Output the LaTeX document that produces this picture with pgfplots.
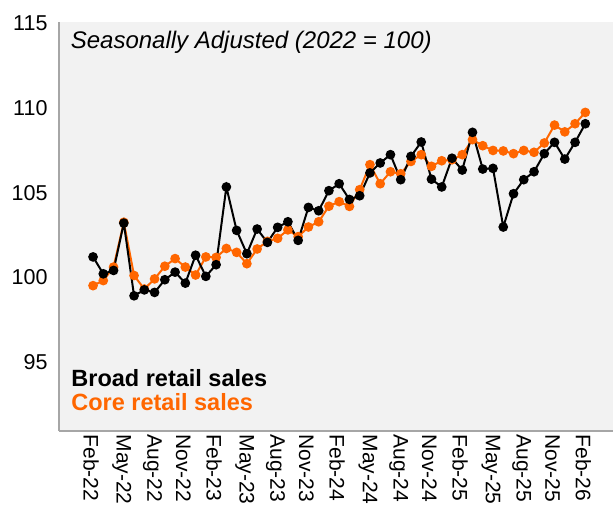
\documentclass[border=0pt]{standalone}
\usepackage{pgfplots}
\pgfplotsset{compat=1.18}
\usepackage{fontspec}
\setmainfont{Liberation Sans}
\definecolor{coreorange}{RGB}{255,102,0}
\definecolor{plotbg}{RGB}{242,242,242}
\definecolor{axisgray}{RGB}{166,166,166}
\begin{document}
\begin{tikzpicture}
\begin{axis}[
  at={(59pt,81pt)}, anchor=south west,
  scale only axis, width=554pt, height=409pt,
  xmin=-3.32, xmax=50.7, ymin=90.9, ymax=115.1,
  axis background/.style={fill=plotbg},
  axis x line*=bottom, axis y line*=left,
  axis line style={draw=axisgray, line width=1.8pt},
  separate axis lines,
  x axis line style={-}, y axis line style={-},
  ytick={95,100,105,110,115},
  xtick={0,3,...,48},
  xticklabels={Feb-22,May-22,Aug-22,Nov-22,Feb-23,May-23,Aug-23,Nov-23,Feb-24,May-24,Aug-24,Nov-24,Feb-25,May-25,Aug-25,Nov-25,Feb-26},
  major tick length=0pt,
  /pgf/number format/assume math mode=true,
  yticklabel style={font=\fontsize{21.5}{25}\selectfont, xshift=-8pt},
  xticklabel style={font=\fontsize{21}{25}\selectfont, rotate=-90, anchor=west, yshift=-2pt},
  clip=false,
]
\addplot[color=coreorange, line width=2pt, mark=*, mark size=3.8pt, mark options={fill=coreorange, draw=coreorange}] coordinates {
(0,99.5)(1,99.8)(2,100.6)(3,103.25)(4,100.1)(5,99.3)(6,99.9)(7,100.65)(8,101.1)(9,100.6)
(10,100.13)(11,101.2)(12,101.17)(13,101.7)(14,101.47)(15,100.8)(16,101.67)(17,102.12)(18,102.3)(19,102.8)
(20,102.4)(21,102.97)(22,103.28)(23,104.2)(24,104.47)(25,104.19)(26,105.18)(27,106.66)(28,105.53)(29,106.24)
(30,106.12)(31,106.85)(32,107.25)(33,106.56)(34,106.89)(35,106.95)(36,107.25)(37,108.14)(38,107.78)(39,107.5)
(40,107.47)(41,107.31)(42,107.5)(43,107.39)(44,107.94)(45,109.0)(46,108.6)(47,109.08)(48,109.75)
};
\addplot[color=black, line width=2pt, mark=*, mark size=3.8pt, mark options={fill=black, draw=black}] coordinates {
(0,101.2)(1,100.2)(2,100.4)(3,103.2)(4,98.9)(5,99.25)(6,99.1)(7,99.85)(8,100.3)(9,99.65)
(10,101.3)(11,100.05)(12,100.74)(13,105.34)(14,102.77)(15,101.39)(16,102.85)(17,102.06)(18,102.95)(19,103.28)
(20,102.18)(21,104.13)(22,103.93)(23,105.12)(24,105.53)(25,104.6)(26,104.82)(27,106.17)(28,106.76)(29,107.25)
(30,105.77)(31,107.15)(32,108.0)(33,105.8)(34,105.34)(35,107.04)(36,106.34)(37,108.57)(38,106.4)(39,106.44)
(40,102.97)(41,104.94)(42,105.77)(43,106.24)(44,107.31)(45,107.98)(46,106.99)(47,107.98)(48,109.08)
};
\node[anchor=west, font=\fontsize{24}{28}\selectfont\itshape] at (rel axis cs:0.015,0.951) {Seasonally Adjusted (2022 = 100)};
\node[anchor=west, font=\fontsize{23.5}{28}\selectfont\bfseries, text=black] at (rel axis cs:0.016,0.13) {Broad retail sales};
\node[anchor=west, font=\fontsize{23.5}{28}\selectfont\bfseries, text=coreorange] at (rel axis cs:0.016,0.071) {Core retail sales};
\end{axis}
\pgfresetboundingbox
\path (0,0) rectangle (614pt,512pt);
\end{tikzpicture}
\end{document}
